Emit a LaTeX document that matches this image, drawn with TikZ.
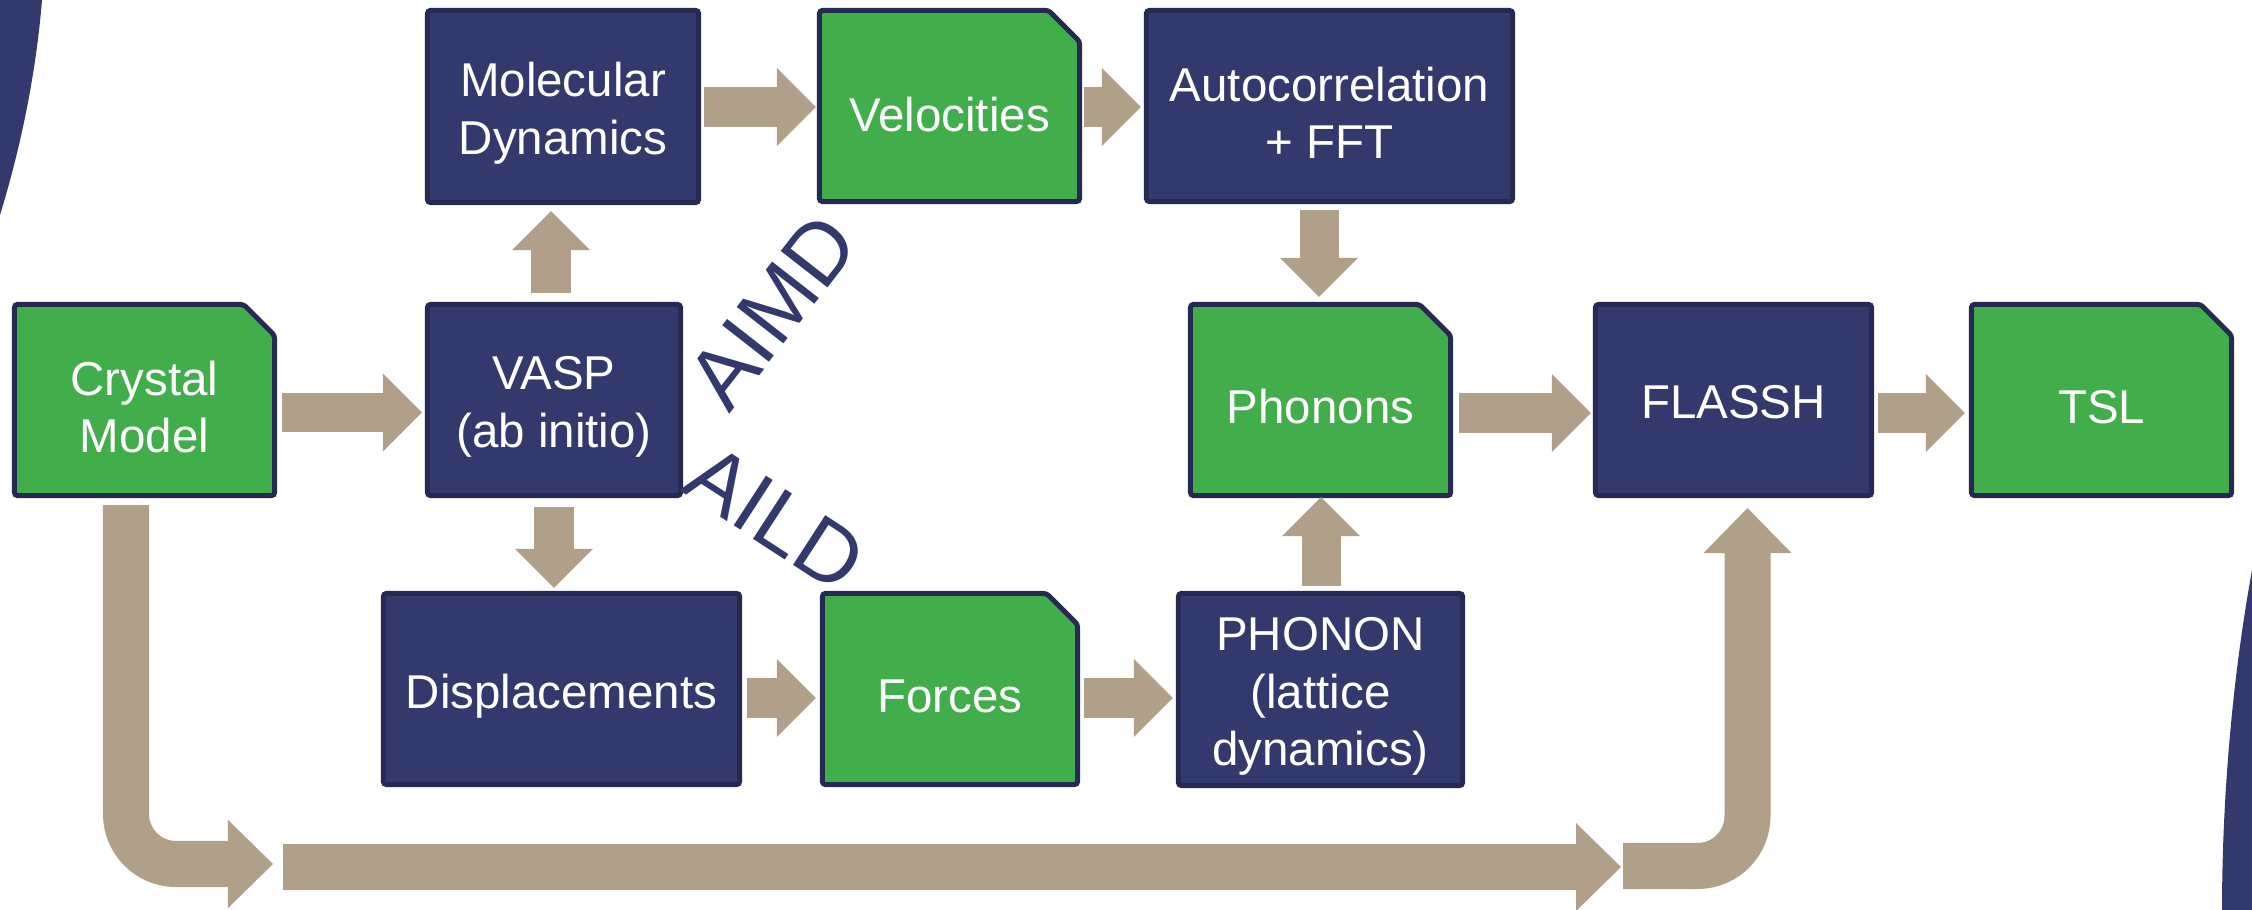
\documentclass[tikz,border=0pt]{standalone}
\usepackage{fontspec}
\setmainfont{Liberation Sans}
\usetikzlibrary{arrows.meta,calc}
\definecolor{navy}{HTML}{33396D}
\definecolor{navyline}{HTML}{242A52}
\definecolor{boxgreen}{HTML}{41AE4B}
\definecolor{arrowtan}{HTML}{B09F89}
\newcommand\gbox[4]{%
  \node[gframe, minimum width=#3, minimum height=#4] (#1) at #2 {};
  \filldraw[gfill] (#1.south west) -- (#1.north west) -- ([xshift=-0.31cm]#1.north east)
    -- ([yshift=-0.31cm]#1.north east) -- (#1.south east) -- cycle;
}
\begin{document}
\begin{tikzpicture}[x=0.01cm,y=-0.01cm,
  dbox/.style={draw=navyline, fill=navy, line width=0.05cm, rounded corners=0.03cm, inner sep=0pt, outer sep=0pt},
  gframe/.style={draw=none, inner sep=0pt, outer sep=0pt},
  gfill/.style={draw=navyline, fill=boxgreen, line width=0.05cm, rounded corners=0.03cm},
  btext/.style={text=white, align=center, font=\fontsize{13.5pt}{16.36pt}\selectfont, inner sep=0pt},
  barrow/.style={draw=arrowtan, line width=0.39cm, -{Triangle[length=0.39cm,width=0.78cm,line width=0pt]}},
  bigarrow/.style={draw=arrowtan, line width=0.46cm, rounded corners=0.5cm, -{Triangle[length=0.45cm,width=0.88cm,line width=0pt]}},
  diag/.style={text=navy, font=\fontsize{24.5pt}{29pt}\selectfont, inner sep=0pt}
]
\useasboundingbox (0,0) rectangle (2252,910);
% background decorations
\fill[navy] (0,0) -- (42,0) .. controls (36,75) and (20,150) .. (0,215) -- cycle;
\fill[navy] (2252,570) .. controls (2232,680) and (2222,800) .. (2222,910) -- (2252,910) -- cycle;

% boxes
\gbox{crystal}{(144.5,400)}{2.60cm}{1.91cm}
\node[dbox, minimum width=2.71cm, minimum height=1.92cm] (md) at (563,106.5) {};
\gbox{vel}{(949.5,106)}{2.60cm}{1.91cm}
\node[dbox, minimum width=3.66cm, minimum height=1.91cm] (acf) at (1329.5,106) {};
\node[dbox, minimum width=2.53cm, minimum height=1.91cm] (vasp) at (554,400) {};
\gbox{phonons}{(1320.5,400)}{2.60cm}{1.91cm}
\node[dbox, minimum width=2.76cm, minimum height=1.91cm] (flassh) at (1733.5,400) {};
\gbox{tsl}{(2101.5,400)}{2.60cm}{1.91cm}
\node[dbox, minimum width=3.56cm, minimum height=1.91cm] (disp) at (561.5,689) {};
\gbox{forces}{(950,689)}{2.55cm}{1.91cm}
\node[dbox, minimum width=2.84cm, minimum height=1.92cm] (phonon) at (1320.5,689.5) {};

% texts
\node[btext] (crystal-t) at ($(crystal.center)+(0,7)$) {Crystal\\Model};
\node[btext] (md-t) at ($(md.center)+(0,7)$) {Molecular\\Dynamics};
\node[btext] (vel-t) at ($(vel.center)+(0,9)$) {Velocities};
\node[btext] (acf-t) at ($(acf.center)+(0,7)$) {Autocorrelation\\+ FFT};
\node[btext] (vasp-t) at ($(vasp.center)+(0,7)$) {VASP\\(ab initio)};
\node[btext] (phonons-t) at ($(phonons.center)+(0,7)$) {Phonons};
\node[btext] (flassh-t) at ($(flassh.center)+(0,2)$) {FLASSH};
\node[btext] (tsl-t) at ($(tsl.center)+(0,7)$) {TSL};
\node[btext] (disp-t) at ($(disp.center)+(0,7)$) {Displacements};
\node[btext] (forces-t) at ($(forces.center)+(0,7)$) {Forces};
\node[btext] (phonon-t) at ($(phonon.center)+(0,7)$) {PHONON\\(lattice\\dynamics)};

\node[diag, rotate=52] (aimd) at (772,311) {AIMD};
\node[diag, rotate=-33] (aild) at (775.5,518) {AILD};

% arrows
\draw[barrow] ([shift={(7.5,12.5)}]crystal.east) -- ([shift={(-5.5,12.5)}]vasp.west);
\draw[barrow] ([shift={(-3,-11)}]vasp.north) -- ([shift={(-3,8.5)}]vasp.north |- md.south);
\draw[barrow] ([shift={(0,11.5)}]vasp.south) -- ([shift={(0,-5.5)}]vasp.south |- disp.north);
\draw[barrow] ([shift={(5.5,0.5)}]md.east) -- ([shift={(-3.5,1)}]vel.west);
\draw[barrow] ([shift={(4.5,1)}]vel.east) -- ([shift={(-5.5,1)}]acf.west);
\draw[barrow] ([shift={(-10.5,8.5)}]acf.south) -- ([shift={(-10.5,-7.5)}]acf.south |- phonons.north);
\draw[barrow] ([shift={(0.5,-7.5)}]phonon.north) -- ([shift={(0.5,1.5)}]phonon.north |- phonons.south);
\draw[barrow] ([shift={(8.5,13)}]phonons.east) -- ([shift={(-4.5,13)}]flassh.west);
\draw[barrow] ([shift={(6.5,13)}]flassh.east) -- ([shift={(-6.5,13)}]tsl.west);
\draw[barrow] ([shift={(7.5,9)}]disp.east) -- ([shift={(-6.5,9)}]forces.west);
\draw[barrow] ([shift={(6.5,9)}]forces.east) -- ([shift={(-5.5,8.5)}]phonon.west);

\coordinate (Ltip) at (273,864);
\coordinate (longS) at (283,867);
\coordinate (longE) at (1621,867);
\coordinate (jS) at (1623,866);
\draw[bigarrow] ([shift={(-18.5,9.5)}]crystal.south) |- (Ltip);
\draw[bigarrow, rounded corners=0pt] (longS) -- (longE);
\draw[bigarrow] (jS) -| ([shift={(14,12.5)}]flassh.south);
\end{tikzpicture}
\end{document}
